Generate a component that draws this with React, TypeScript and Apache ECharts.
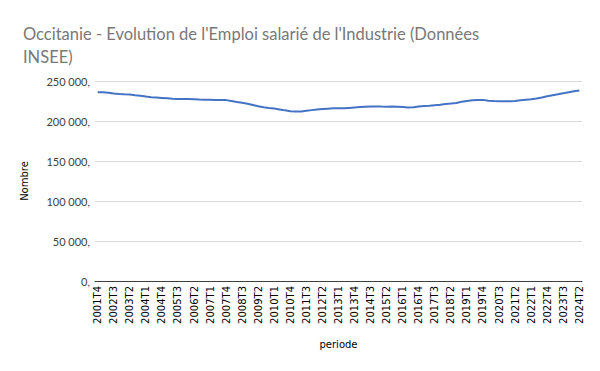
import React, { useEffect, useRef } from "react";
import * as echarts from "echarts";

const TITLE = "Occitanie - Evolution de l'Emploi salarié de l'Industrie (Données\nINSEE)";
const X_NAME = "periode";
const Y_NAME = "Nombre";

// quarters from 2001T4 to 2024T2
const START_YEAR = 2001;
const START_Q = 4;
const N_QUARTERS = 91;
const periods: string[] = [];
for (let k = 0; k < N_QUARTERS; k++) {
  const q0 = START_Q - 1 + k;
  periods.push(`${START_YEAR + Math.floor(q0 / 4)}T${(q0 % 4) + 1}`);
}

const emploi: number[] = [
  235900, 235800, 235400, 234500, 233800, 233300, 233000, 232300, 231700, 230600,
  229700, 229300, 228900, 228400, 227900, 227500, 227400, 227500, 227300, 226900,
  226600, 226500, 226300, 226200, 226100, 225000, 223800, 222700, 221500, 220000,
  218500, 217300, 216300, 215500, 214500, 213300, 212300, 212000, 212000, 212800,
  213600, 214300, 214900, 215400, 215800, 216000, 215900, 216400, 216900, 217400,
  217800, 218200, 218200, 218000, 217900, 218000, 217900, 217600, 217000, 217200,
  218200, 218800, 219200, 219800, 220400, 221200, 221800, 222600, 224000, 225000,
  225800, 226400, 226400, 225400, 224900, 224800, 224700, 224600, 225000, 225800,
  226600, 227100, 228200, 229500, 231000, 232300, 233500, 234800, 235900, 237200,
  238000,
];

const Y_MIN = 0;
const Y_MAX = 250000;
const Y_STEP = 50000;

function fmt(v: number): string {
  const s = String(Math.round(v)).replace(/\B(?=(\d{3})+(?!\d))/g, " ");
  return s + ",";
}

export default function App() {
  const ref = useRef<HTMLDivElement>(null);
  useEffect(() => {
    if (!ref.current) return;
    const chart = echarts.init(ref.current, null, { renderer: "svg" });
    chart.setOption({
      animation: false,
      backgroundColor: "#ffffff",
      title: {
        text: TITLE,
        left: 18,
        top: 17,
        textStyle: {
          fontFamily: "Lato",
          fontSize: 16.5,
          fontWeight: "normal",
          color: "#787878",
          lineHeight: 23,
        },
      },
      grid: { left: 95, right: 18, top: 81, bottom: 90, containLabel: false },
      xAxis: {
        type: "category",
        data: periods,
        boundaryGap: true,
        name: X_NAME,
        nameLocation: "middle",
        nameGap: 58,
        nameTextStyle: { fontFamily: "DejaVu Sans", fontSize: 10, color: "#000" },
        axisLine: { show: true, lineStyle: { color: "#404040", width: 1 } },
        axisTick: { show: false },
        axisLabel: {
          interval: 2,
          rotate: 90,
          fontFamily: "DejaVu Sans",
          fontSize: 10,
          color: "#000",
          margin: 5,
        },
        splitLine: { show: false },
      },
      yAxis: {
        type: "value",
        min: Y_MIN,
        max: Y_MAX,
        interval: Y_STEP,
        name: Y_NAME,
        nameLocation: "middle",
        nameGap: 66,
        nameTextStyle: { fontFamily: "DejaVu Sans", fontSize: 10, color: "#000" },
        axisLine: { show: false },
        axisTick: { show: false },
        axisLabel: {
          formatter: fmt,
          fontFamily: "Lato",
          fontSize: 11,
          color: "#404040",
          margin: 5,
        },
        splitLine: { lineStyle: { color: "#d9d9d9", width: 1 } },
      },
      series: [
        {
          type: "line",
          data: emploi,
          showSymbol: false,
          smooth: false,
          lineStyle: { color: "#4472c4", width: 2 },
          itemStyle: { color: "#4472c4" },
        },
      ],
    });
    return () => chart.dispose();
  }, []);
  return <div ref={ref} style={{ width: 600, height: 371, margin: -8 }} />;
}
